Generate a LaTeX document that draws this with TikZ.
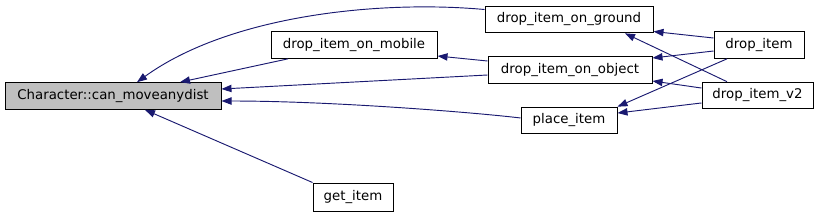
\documentclass[tikz,border=0pt]{standalone}
\usepackage{fontspec}
\setmainfont{DejaVu Sans}
\usetikzlibrary{arrows.meta}
\definecolor{edgeblue}{HTML}{191970}
\definecolor{boxgray}{HTML}{BFBFBF}
\begin{document}
\begin{tikzpicture}[x=0.75pt,y=-0.75pt,
  fn/.style={draw=black,line width=0.75pt,fill=white,inner sep=0pt,minimum height=20pt,
    font=\fontsize{10pt}{12pt}\selectfont},
  call/.style={draw=edgeblue,line width=0.7pt,-{Triangle[length=7.5pt,width=5.5pt]}}]
\useasboundingbox (0,0) rectangle (821,215);
\node[fn,fill=boxgray,minimum width=162pt] (can) at (113,96) {Character::can\_moveanydist};
\node[fn,minimum width=126pt] (ground) at (569,19.5) {drop\_item\_on\_ground};
\node[fn,minimum width=124.5pt] (mobile) at (354,45) {drop\_item\_on\_mobile};
\node[fn,minimum width=123pt] (object) at (570,70) {drop\_item\_on\_object};
\node[fn,minimum width=72pt] (place) at (569,120.5) {place\_item};
\node[fn,minimum width=60pt,minimum height=21pt] (get) at (353,197) {get\_item};
\node[fn,minimum width=67.5pt] (dropitem) at (759,45) {drop\_item};
\node[fn,minimum width=83.25pt] (dropv2) at (757.5,95.5) {drop\_item\_v2};
\draw[call] ([yshift=7.5pt]ground.west) .. controls (380,0) and (230,15) .. ([xshift=18pt]can.north);
\draw[call] ([xshift=-49.5pt]mobile.south) -- ([xshift=50.25pt]can.north);
\draw[call] ([yshift=-3.75pt]object.west) -- ([yshift=5.25pt]can.east);
\draw[call] ([yshift=6.75pt]object.west) -- ([yshift=-8.25pt]mobile.east);
\draw[call] ([yshift=1.9pt]place.west) .. controls (470,112) and (330,101) .. ([yshift=-3.75pt]can.east);
\draw[call] (get.north west) -- ([xshift=24pt]can.south);
\draw[call] ([yshift=5.25pt]dropitem.west) -- ([yshift=-9pt]ground.east);
\draw[call] ([yshift=-4.5pt]dropitem.west) -- ([yshift=9pt]object.east);
\draw[call] ([xshift=-24pt]dropitem.south) -- (place.north east);
\draw[call] ([xshift=-22.9pt]dropv2.north) -- ([xshift=42pt]ground.south);
\draw[call] ([yshift=5.6pt]dropv2.west) -- ([yshift=-8.25pt]object.east);
\draw[call] ([yshift=-5.6pt]dropv2.west) -- ([yshift=5.6pt]place.east);
\end{tikzpicture}
\end{document}
